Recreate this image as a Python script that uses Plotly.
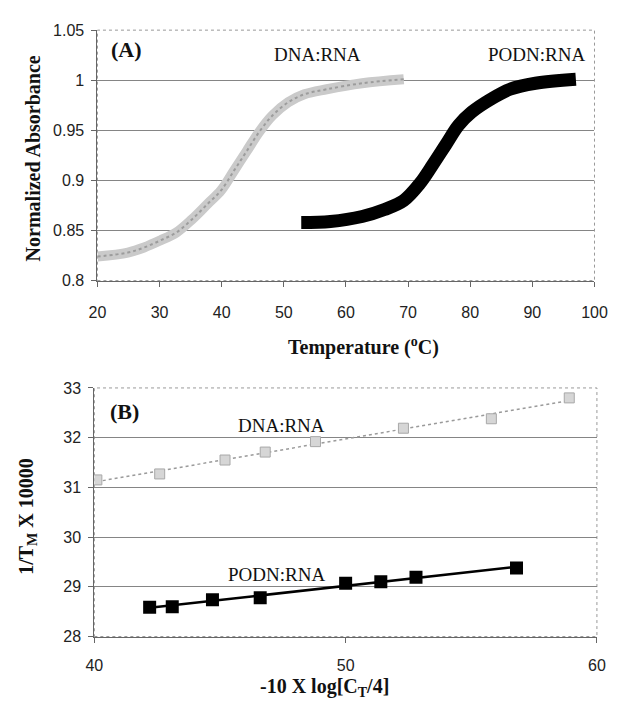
import numpy as np
import plotly.graph_objects as go

W, H = 621, 707

# ---------------- Panel A data (melting curves) ----------------
dna_temp = [20.0, 24.9, 27.5, 30.1, 32.7, 35.2, 37.8, 39.9, 42.0, 44.0, 46.1, 48.2, 50.7, 53.3, 56.9, 62.6, 69.3]
dna_abs = [0.824, 0.828, 0.833, 0.840, 0.848, 0.861, 0.877, 0.890, 0.910, 0.929, 0.949, 0.965, 0.978, 0.986, 0.991, 0.997, 1.001]

podn_temp = [52.8, 57.5, 62.6, 66.2, 69.3, 71.9, 74.0, 76.1, 78.1, 80.2, 83.3, 86.4, 90.5, 97.0]
podn_abs = [0.858, 0.859, 0.864, 0.871, 0.880, 0.897, 0.916, 0.936, 0.955, 0.968, 0.981, 0.991, 0.997, 1.001]

a_xticks = [20, 30, 40, 50, 60, 70, 80, 90, 100]
a_yticks = [0.8, 0.85, 0.9, 0.95, 1.0, 1.05]
a_yticklabels = ["0.8", "0.85", "0.9", "0.95", "1", "1.05"]

# ---------------- Panel B data (1/Tm vs concentration) ----------------
dna_logc = [40.1, 42.6, 45.2, 46.8, 48.8, 52.3, 55.8, 58.9]
dna_invtm = [31.15, 31.27, 31.55, 31.71, 31.92, 32.19, 32.38, 32.80]

podn_logc = [42.2, 43.1, 44.7, 46.6, 50.0, 51.4, 52.8, 56.8]
podn_invtm = [28.59, 28.60, 28.74, 28.78, 29.07, 29.10, 29.19, 29.38]

b_xticks = [40, 50, 60]
b_yticks = [28, 29, 30, 31, 32, 33]

# ---------------- layout geometry (pixels) ----------------
def px_x(p):
    return p / W

def px_y(p):
    return 1 - p / H

A_dom_x = [px_x(91.7), px_x(607)]
A_dom_y = [px_y(279.3), px_y(22.7)]
B_dom_x = [px_x(88.5), px_x(609.5)]
B_dom_y = [px_y(644), px_y(389.3)]

SERIF = "Liberation Serif, Times New Roman, serif"
SANS = "Liberation Sans, Arial, sans-serif"
GRID = "#858585"

fig = go.Figure()

# Panel A curves
fig.add_trace(go.Scatter(x=dna_temp, y=dna_abs, mode="lines",
                         line=dict(color="#cacaca", width=10, shape="spline"),
                         xaxis="x", yaxis="y", showlegend=False))
fig.add_trace(go.Scatter(x=dna_temp, y=dna_abs, mode="lines",
                         line=dict(color="#9c9c9c", width=2, shape="spline", dash="dot"),
                         xaxis="x", yaxis="y", showlegend=False))
fig.add_trace(go.Scatter(x=podn_temp, y=podn_abs, mode="lines",
                         line=dict(color="black", width=13, shape="spline", smoothing=1.0),
                         xaxis="x", yaxis="y", showlegend=False))

# Panel B: trend lines from linear fits of the data
def fit_line(xs, ys):
    k, b = np.polyfit(xs, ys, 1)
    xe = [min(xs), max(xs)]
    return xe, [k * v + b for v in xe]

dx, dy = fit_line(dna_logc, dna_invtm)
px_, py_ = fit_line(podn_logc, podn_invtm)

fig.add_trace(go.Scatter(x=dx, y=dy, mode="lines",
                         line=dict(color="#9a9a9a", width=1.5, dash="dot"),
                         xaxis="x2", yaxis="y2", showlegend=False))
fig.add_trace(go.Scatter(x=dna_logc, y=dna_invtm, mode="markers",
                         marker=dict(symbol="square", size=10, color="#d6d6d6",
                                     line=dict(color="#a8a8a8", width=1)),
                         xaxis="x2", yaxis="y2", showlegend=False))
fig.add_trace(go.Scatter(x=px_, y=py_, mode="lines",
                         line=dict(color="black", width=2.5),
                         xaxis="x2", yaxis="y2", showlegend=False))
fig.add_trace(go.Scatter(x=podn_logc, y=podn_invtm, mode="markers",
                         marker=dict(symbol="square", size=13, color="black"),
                         xaxis="x2", yaxis="y2", showlegend=False))

axis_common = dict(zeroline=False, showline=True, linecolor="#666",
                   linewidth=1, ticks="outside", ticklen=5, tickcolor="#666",
                   tickfont=dict(family=SANS, size=16, color="#222"))

fig.update_layout(
    width=W, height=H,
    margin=dict(l=0, r=0, t=0, b=0),
    paper_bgcolor="white", plot_bgcolor="white",
    xaxis=dict(domain=A_dom_x, anchor="y", range=[20, 100], tickvals=a_xticks,
               ticklabelstandoff=12, showgrid=False, **axis_common),
    yaxis=dict(domain=A_dom_y, anchor="x", range=[0.8, 1.05], tickvals=a_yticks,
               ticktext=a_yticklabels, ticklabelstandoff=4,
               showgrid=True, gridcolor=GRID, gridwidth=1, **axis_common),
    xaxis2=dict(domain=B_dom_x, anchor="y2", range=[40, 60], tickvals=b_xticks,
                ticklabelstandoff=9, showgrid=False, **axis_common),
    yaxis2=dict(domain=B_dom_y, anchor="x2", range=[28, 33], tickvals=b_yticks,
                ticklabelstandoff=4, showgrid=True, gridcolor=GRID, gridwidth=1,
                **axis_common),
)

# dotted plot-area borders
for xr, yr in (("x domain", "y domain"), ("x2 domain", "y2 domain")):
    fig.add_shape(type="rect", xref=xr, yref=yr, x0=0, x1=1, y0=0, y1=1,
                  line=dict(color="#999", width=1, dash="dot"), layer="below")

def ann(text, xp, yp, size, bold=False, family=SERIF, angle=0):
    fig.add_annotation(text=f"<b>{text}</b>" if bold else text,
                       x=px_x(xp), y=px_y(yp), xref="paper", yref="paper",
                       showarrow=False, textangle=angle,
                       font=dict(family=family, size=size, color="#111"),
                       xanchor="center", yanchor="middle")

ann("(A)", 122, 43, 22, bold=True)
ann("DNA:RNA", 320, 48, 19)
ann("PODN:RNA", 547, 48, 19)
ann("(B)", 120, 413, 22, bold=True)
ann("DNA:RNA", 282, 428, 19)
ann("PODN:RNA", 277, 580, 19)

ann("Normalized Absorbance", 25, 154, 20, bold=True, angle=-90)
ann("Temperature (<sup>o</sup>C)", 368, 347, 20, bold=True)
ann("1/T<sub>M</sub> X 10000", 19, 521, 20, bold=True, angle=-90)
ann("-10 X log[C<sub>T</sub>/4]", 327, 696, 20, bold=True)

fig.write_html(
    "out.html",
    config={"displayModeBar": False},
    post_script="document.body.style.margin='0';document.body.style.overflow='hidden';",
)
